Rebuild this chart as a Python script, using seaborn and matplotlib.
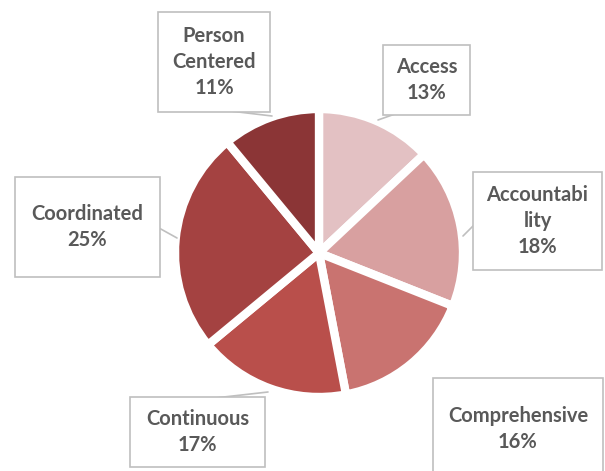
import matplotlib
matplotlib.use("Agg")
import matplotlib.pyplot as plt
import seaborn as sns
from matplotlib.patches import Rectangle

categories = ["Access", "Accountability", "Comprehensive", "Continuous", "Coordinated", "Person Centered"]
values = [13, 18, 16, 17, 25, 11]
label_texts = ["Access\n13%", "Accountabi\nlity\n18%", "Comprehensive\n16%", "Continuous\n17%", "Coordinated\n25%", "Person\nCentered\n11%"]
colors = ["#E3C1C3", "#D8A0A0", "#C97370", "#B94F4B", "#A44241", "#8B3536"]

sns.set_theme(style="white")
plt.rcParams['font.family'] = ['Lato', 'DejaVu Sans']

W, H = 605, 471
fig = plt.figure(figsize=(W / 100, H / 100), dpi=100)
ax = fig.add_axes([0, 0, 1, 1])

cx, cy, r = 319, H - 253, 144
ax.pie(values, colors=colors, startangle=90, counterclock=False,
       center=(cx, cy), radius=r,
       wedgeprops=dict(edgecolor="white", linewidth=6))
ax.set_xlim(0, W)
ax.set_ylim(0, H)
ax.set_aspect("equal")
ax.axis("off")

# boxes in pixel coords (left, top, right, bottom), leader (from, to)
boxes = [
    ((383, 45, 470, 115), ((395, 114), (378, 120))),
    ((473, 172, 602, 270), ((474, 225), (463, 236))),
    ((433, 378, 603, 480), None),
    ((130, 397, 265, 467), ((215, 398), (268, 392))),
    ((15, 177, 160, 277), ((159, 228), (177, 238))),
    ((158, 12, 270, 112), ((230, 111), (272, 116))),
]

for i, ((l, t, rgt, b), lead) in enumerate(boxes):
    ax.add_patch(Rectangle((l, H - b), rgt - l, b - t, facecolor="white",
                           edgecolor="#BFBFBF", linewidth=1.2, zorder=5, clip_on=False))
    ax.text((l + rgt) / 2, H - (t + b) / 2, label_texts[i], ha="center", va="center",
            fontsize=14.5, fontweight="bold", color="#595959", linespacing=1.4, zorder=6)
    if lead is not None:
        (x0, y0), (x1, y1) = lead
        ax.plot([x0, x1], [H - y0, H - y1], color="#BFBFBF", linewidth=1.2, zorder=4)

fig.savefig("out.png", dpi=100)
